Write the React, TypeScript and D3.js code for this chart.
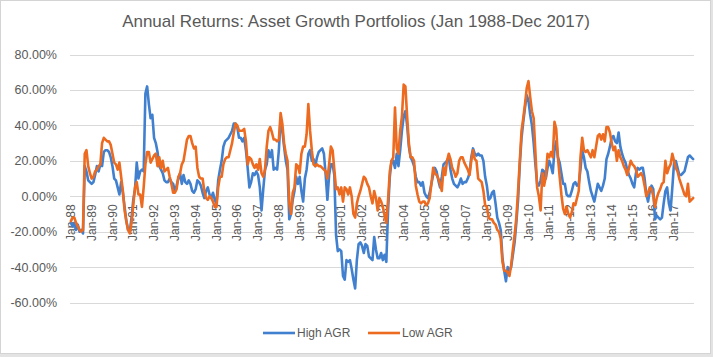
import React from 'react';
import * as d3 from 'd3';

// Monthly trailing annual returns (%), Jan 1988 - Dec 2017
const HIGH_AGR: number[] = [
  -15, -17, -15, -19, -16, -20, -19, -21, 17, 14, 9, 8, // 1988
  7, 8, 12, 17, 14, 18, 17, 25, 26, 26, 25, 22, // 1989
  17, 10, 9, 5, 1, 8, 2, -6, -14, -19, -20, -12, // 1990
  -2, 4, 19, 10, 14, 15, 14, 58, 62, 52, 44, 46, // 1991
  33, 30, 25, 17, 15, 13, 9, 8, 8, 10, 8, 7, // 1992
  3, 6, 10, 13, 7, 12, 8, 7, 9, 7, 3, 2, // 1993
  4, 9, 8, 6, 2, -1, 3, 5, 1, -1, 2, -2, // 1994
  -4, 9, 15, 20, 28, 31, 32, 33, 35, 37, 41, 41, // 1995
  39, 33, 33, 31, 33, 26, 16, 5, 8, 13, 12, 14, // 1996
  12, 5, -8, 4, 15, 18, 26, 22, 26, 15, 16, 15, // 1997
  26, 44, 37, 28, 20, 15, -13, -10, -2, 3, 11, 7, // 1998
  11, 3, -3, 10, 15, 24, 26, 20, 21, 17, 22, 25, // 1999
  26, 27, 24, 12, -2, 12, 18, 18, 12, -22, -31, -30, // 2000
  -31, -45, -47, -36, -37, -36, -41, -47, -52, -36, -27, -26, // 2001
  -28, -32, -27, -28, -34, -35, -36, -23, -30, -35, -35, -32, // 2002
  -36, -33, -37, -8, 11, 20, 20, 16, 24, 17, 26, 37, // 2003
  45, 48, 40, 28, 22, 20, 17, 11, 8, 8, 6, 8, // 2004
  2, 0, -1, 2, 7, 12, 16, 14, 9, 5, 11, 18, // 2005
  19, 20, 22, 15, 10, 7, 6, 5, 7, 10, 7, 8, // 2006
  8, 10, 13, 22, 27, 24, 23, 24, 23, 23, 20, 11, // 2007
  6, -2, -1, 2, 3, -4, -12, -15, -19, -35, -42, -48, // 2008
  -40, -42, -40, -33, -26, -15, -2, 18, 33, 42, 50, 57, // 2009
  54, 46, 40, 30, 18, 7, 6, 9, 15, 14, 10, 16, // 2010
  20, 17, 13, 26, 31, 22, 19, 13, 7, 7, 1, 0, // 2011
  0, 3, 7, 8, 6, 7, 15, 26, 22, 16, 14, 8, // 2012
  3, 0, -3, 2, 7, 5, 3, 6, 10, 21, 24, 28, // 2013
  33, 34, 31, 30, 36, 28, 24, 21, 19, 15, 12, 10, // 2014
  7, 5, 13, 16, 15, 16, 16, 10, 1, -3, 3, 6, // 2015
  4, -13, -11, -12, -13, -12, -4, 3, 5, -4, -8, 5, // 2016
  19, 20, 16, 12, 12, 13, 14, 18, 22, 23, 22, 21, // 2017
];

const LOW_AGR: number[] = [
  -14, -12, -12, -15, -17, -19, -20, -19, 24, 26, 17, 13, // 1988
  10, 11, 14, 15, 17, 18, 30, 33, 32, 31, 31, 29, // 1989
  24, 19, 18, 15, 19, 11, 3, -8, -14, -19, -21, -15, // 1990
  -5, 5, 8, 1, 1, -6, 5, 18, 25, 25, 19, 21, // 1991
  23, 24, 17, 22, 16, 20, 14, 15, 16, 11, 7, 2, // 1992
  2, 4, 11, 13, 18, 20, 26, 32, 34, 34, 30, 27, // 1993
  28, 16, 11, 10, 10, 3, -1, -2, 0, -1, -3, -6, // 1994
  -6, 5, 11, 11, 18, 21, 22, 22, 26, 30, 36, 41, // 1995
  40, 37, 37, 37, 38, 31, 18, 22, 21, 18, 16, 18, // 1996
  15, 21, 13, 11, 15, 28, 37, 39, 36, 32, 32, 31, // 1997
  32, 47, 41, 30, 24, 20, -4, -10, 2, 5, 18, 17, // 1998
  13, 24, 28, 28, 35, 52, 37, 26, 18, 17, 18, 17, // 1999
  17, 16, 15, 14, 10, 18, 28, 26, 15, 4, 5, 1, // 2000
  5, -3, 5, 4, 1, 5, 0, -10, -12, -4, 0, 3, // 2001
  7, 11, 10, 7, 5, 0, -4, 3, -1, -8, -1, -3, // 2002
  -6, -11, -15, -2, 14, 20, 22, 50, 27, 24, 37, 45, // 2003
  63, 62, 45, 30, 22, 22, 20, 6, 1, -3, -4, -3, // 2004
  -3, -5, -4, -1, 7, 16, 13, 12, 10, 7, 3, 16, // 2005
  12, 20, 24, 21, 16, 14, 11, 13, 20, 22, 22, 19, // 2006
  17, 15, 12, 20, 26, 21, 20, 10, 9, 8, 3, -5, // 2007
  -6, -12, -13, -13, -15, -16, -19, -20, -24, -37, -42, -42, // 2008
  -43, -45, -39, -30, -22, -12, 3, 20, 37, 44, 52, 61, // 2009
  65, 56, 48, 44, 25, 5, 0, -8, 13, 6, 11, 24, // 2010
  22, 25, 22, 42, 38, 22, 11, 1, -7, -10, -6, -10, // 2011
  -12, -9, -4, -5, -1, 3, 22, 33, 26, 25, 26, 24, // 2012
  22, 26, 22, 28, 34, 35, 32, 35, 31, 39, 39, 36, // 2013
  30, 26, 28, 20, 26, 22, 20, 17, 15, 12, 16, 20, // 2014
  18, 17, 15, 11, 12, 13, 11, 6, 0, 2, 5, 4, // 2015
  0, -6, -1, 2, 4, 7, 8, 20, 13, 16, 18, 24, // 2016
  20, 16, 14, 10, 7, 4, 1, 0, 7, -3, -2, -1, // 2017
];

const YEARS: number[] = d3.range(1988, 2018);
const MONTHS: string[] = ['Jan', 'Feb', 'Mar', 'Apr', 'May', 'Jun', 'Jul', 'Aug', 'Sep', 'Oct', 'Nov', 'Dec'];
const CATEGORIES: string[] = YEARS.flatMap((y) => MONTHS.map((m) => `${m}-${String(y).slice(2)}`));
const Y_TICKS: number[] = [-60, -40, -20, 0, 20, 40, 60, 80];
const TITLE = 'Annual Returns: Asset Growth Portfolios (Jan 1988-Dec 2017)';
const SERIES = [
  { name: 'High AGR', values: HIGH_AGR, color: '#4180CF' },
  { name: 'Low AGR', values: LOW_AGR, color: '#EC6B20' },
];

const W = 713;
const H = 357;
const FONT = "'Liberation Sans', Arial, sans-serif";
const TEXT = '#595959';
const GRID = '#d9d9d9';

export default function App() {
  const x = d3.scaleBand<string>().domain(CATEGORIES).range([70, 694]);
  const y = d3.scaleLinear().domain([-60, 80]).range([302.6, 54.5]);
  const cx = (c: string) => (x(c) as number) + x.bandwidth() / 2;
  const line = d3
    .line<number>()
    .x((_, i) => cx(CATEGORIES[i]))
    .y((d) => y(d));
  const fmt = (v: number) => `${v.toFixed(2)}%`;
  const labelCats = CATEGORIES.filter((_, i) => i % 12 === 0);

  const legendItems = [
    { s: SERIES[0], x0: 263 },
    { s: SERIES[1], x0: 368 },
  ];

  return (
    <svg
      width={W}
      height={H}
      style={{ position: 'absolute', left: 0, top: 0, background: '#fff' }}
      fontFamily={FONT}
    >
      <rect x={0} y={0} width={W} height={H} fill="#fff" />
      <rect x={0.5} y={0.5} width={710} height={353} fill="none" stroke="#d4d4d4" strokeWidth={1} />
      <rect x={711} y={0} width={2} height={H} fill="#e3e3e3" />
      <rect x={0} y={354} width={W} height={3} fill="#e3e3e3" />

      <text x={356} y={27} textAnchor="middle" fontSize={17} fill={TEXT}>
        {TITLE}
      </text>

      {Y_TICKS.map((t) => (
        <g key={t}>
          <line x1={70} x2={694} y1={Math.round(y(t)) + 0.5} y2={Math.round(y(t)) + 0.5} stroke={GRID} strokeWidth={1} />
          <text x={57} y={y(t)} dy="0.35em" textAnchor="end" fontSize={12.5} fill={TEXT}>
            {fmt(t)}
          </text>
        </g>
      ))}

      {labelCats.map((c) => (
        <text
          key={c}
          transform={`translate(${cx(c)},${y(0) + 8}) rotate(-90)`}
          dy="0.35em"
          textAnchor="end"
          fontSize={12}
          fill={TEXT}
        >
          {c}
        </text>
      ))}

      {SERIES.map((s) => (
        <path
          key={s.name}
          d={line(s.values) || ''}
          fill="none"
          stroke={s.color}
          strokeWidth={2.6}
          strokeLinejoin="round"
          strokeLinecap="round"
        />
      ))}

      {legendItems.map(({ s, x0 }) => (
        <g key={s.name}>
          <line x1={x0} x2={x0 + 32} y1={333} y2={333} stroke={s.color} strokeWidth={2.6} />
          <text x={x0 + 34} y={333} dy="0.35em" fontSize={12} fill={TEXT}>
            {s.name}
          </text>
        </g>
      ))}
    </svg>
  );
}
